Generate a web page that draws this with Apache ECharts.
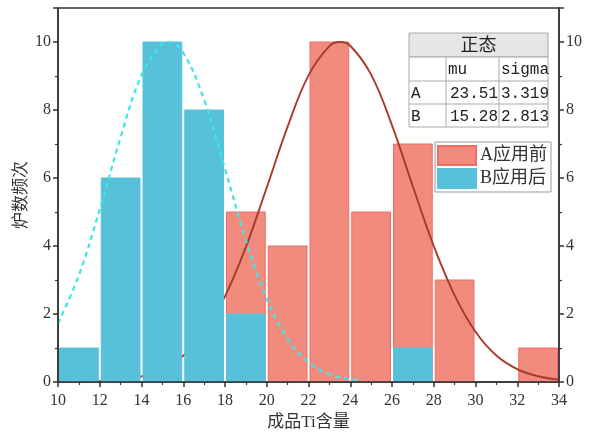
<!DOCTYPE html>
<html>
<head>
<meta charset="utf-8">
<script src="https://cdn.jsdelivr.net/npm/echarts@6/dist/echarts.min.js"></script>
<style>html,body{margin:0;padding:0;background:#fff;}#c{width:590px;height:437px;}</style>
</head>
<body>
<div id="c"></div>
<script>
// ---- data ----
const binStarts = [10, 12, 14, 16, 18, 20, 22, 24, 26, 28, 30, 32];
const binWidth = 2;
const countsA = [0, 0, 0, 0, 5, 4, 10, 5, 7, 3, 0, 1];
const countsB = [1, 6, 10, 8, 2, 0, 0, 0, 1, 0, 0, 0];
const seriesNames = ['A应用前', 'B应用后'];
const curveAX = [10, 11, 12, 13, 14, 15, 16, 17, 18, 19, 20, 21, 22, 23, 23.5, 24, 25, 26, 27, 28, 29, 30, 31, 32, 33, 34];
const curveAY = [0.003, 0.008, 0.024, 0.066, 0.165, 0.374, 0.773, 1.46, 2.52, 3.97, 5.72, 7.51, 9.02, 9.88, 10.0, 9.89, 9.04, 7.55, 5.75, 4.00, 2.55, 1.48, 0.78, 0.38, 0.17, 0.07];
const curveBX = [10, 11, 12, 13, 14, 15, 15.3, 16, 17, 18, 19, 20, 21, 22, 23, 24, 24.5];
const curveBY = [1.72, 3.14, 5.07, 7.20, 9.02, 9.95, 10.0, 9.68, 8.30, 6.27, 4.17, 2.45, 1.27, 0.58, 0.23, 0.08, 0.05];
const xTicks = {min: 10, max: 34, interval: 2};
const yTicks = {min: 0, max: 11, interval: 2};
const tableTitle = '正态';
const tableHeader = ['', 'mu', 'sigma'];
const tableRows = [['A', '23.51', '3.319'], ['B', '15.28', '2.813']];
const xName = '成品Ti含量';
const yName = '炉数频次';

// ---- styles ----
const serif = "'Liberation Serif', 'Noto Sans CJK SC', serif";
const mono = "'Liberation Mono', 'Noto Sans CJK SC', monospace";
const redFill = '#F08B7D', redBorder = '#F26B66';
const blueFill = '#57C1DA', blueBorder = '#57C1DA';

function binData(counts) {
  return binStarts.map((s, i) => [s, s + binWidth, counts[i]]);
}
function renderBin(params, api) {
  const v = api.value(2);
  if (!v) return null;
  const p0 = api.coord([api.value(0), v]);
  const p1 = api.coord([api.value(1), 0]);
  return {
    type: 'rect',
    shape: {x: p0[0] + 1.5, y: p0[1], width: p1[0] - p0[0] - 3, height: p1[1] - p0[1] - 0.5},
    style: api.style()
  };
}

const axisLineStyle = {color: '#333', width: 1.5};
const tickLabel = {color: '#333', fontSize: 16, fontFamily: serif};

// table graphic
const tX = [409, 446, 499, 548];
const tY = [33, 57, 81, 104, 127];
const tableChildren = [];
tableChildren.push({type: 'rect', shape: {x: tX[0], y: tY[0], width: tX[3] - tX[0], height: tY[1] - tY[0]}, style: {fill: '#e6e6e6', stroke: '#aaa', lineWidth: 1}});
tableChildren.push({type: 'rect', shape: {x: tX[0], y: tY[1], width: tX[3] - tX[0], height: tY[4] - tY[1]}, style: {fill: '#fff', stroke: '#aaa', lineWidth: 1}});
for (let r = 2; r < 4; r++) tableChildren.push({type: 'line', shape: {x1: tX[0], y1: tY[r], x2: tX[3], y2: tY[r]}, style: {stroke: '#aaa', lineWidth: 1}});
for (let c = 1; c < 3; c++) tableChildren.push({type: 'line', shape: {x1: tX[c], y1: tY[1], x2: tX[c], y2: tY[4]}, style: {stroke: '#aaa', lineWidth: 1}});
tableChildren.push({type: 'text', style: {text: tableTitle, x: (tX[0] + tX[3]) / 2, y: (tY[0] + tY[1]) / 2 + 1, align: 'center', verticalAlign: 'middle', fontSize: 18, fontFamily: serif, fill: '#222'}});
const allRows = [tableHeader].concat(tableRows);
allRows.forEach((row, ri) => {
  const cy = (tY[ri + 1] + tY[ri + 2]) / 2 + 1;
  row.forEach((txt, ci) => {
    if (!txt) return;
    const rightAlign = ri > 0 && ci === 1;
    tableChildren.push({type: 'text', style: {
      text: txt, x: rightAlign ? tX[ci + 1] - 1 : tX[ci] + 2, y: cy,
      align: rightAlign ? 'right' : 'left', verticalAlign: 'middle',
      fontSize: 16, fontFamily: mono, fill: '#222'}});
  });
});

const chart = echarts.init(document.getElementById('c'), null, {renderer: 'canvas'});
chart.setOption({
  backgroundColor: '#fff',
  animation: false,
  grid: {left: 58, right: 31, top: 8, bottom: 55, outerBoundsMode: 'none', containLabel: false,
         show: true, borderColor: '#333', borderWidth: 1.5, backgroundColor: 'transparent'},
  xAxis: {
    type: 'value', min: xTicks.min, max: xTicks.max, interval: xTicks.interval, z: 10,
    name: xName, nameLocation: 'middle', nameGap: 32, nameMoveOverlap: false,
    nameTextStyle: {fontSize: 17, fontFamily: serif, color: '#333'},
    axisLine: {show: true, lineStyle: axisLineStyle},
    axisTick: {show: true, inside: false, length: 5, lineStyle: axisLineStyle},
    minorTick: {show: true, splitNumber: 2, length: 3, lineStyle: {color: '#333', width: 1.2}},
    axisLabel: Object.assign({margin: 11}, tickLabel),
    splitLine: {show: false}
  },
  yAxis: [{
    type: 'value', min: yTicks.min, max: yTicks.max, interval: yTicks.interval, z: 10,
    name: yName, nameLocation: 'middle', nameGap: 28, nameRotate: 90, nameMoveOverlap: false,
    nameTextStyle: {fontSize: 17, fontFamily: serif, color: '#333'},
    axisLine: {show: true, lineStyle: axisLineStyle},
    axisTick: {show: true, inside: false, length: 5, lineStyle: axisLineStyle},
    minorTick: {show: true, splitNumber: 2, length: 3, lineStyle: {color: '#333', width: 1.2}},
    axisLabel: Object.assign({margin: 7, showMaxLabel: false}, tickLabel),
    splitLine: {show: false}
  }, {
    type: 'value', position: 'right', min: yTicks.min, max: yTicks.max, interval: yTicks.interval, z: 10,
    axisLine: {show: true, onZero: false, lineStyle: axisLineStyle},
    axisTick: {show: true, inside: false, length: 5, lineStyle: axisLineStyle},
    minorTick: {show: true, splitNumber: 2, length: 3, lineStyle: {color: '#333', width: 1.2}},
    axisLabel: Object.assign({margin: 7, showMaxLabel: false}, tickLabel),
    splitLine: {show: false}
  }],
  legend: {
    orient: 'vertical', left: 435, top: 142,
    data: seriesNames,
    itemWidth: 38, itemHeight: 19, itemGap: 2, icon: 'rect',
    padding: [3, 4, 3, 2],
    borderColor: '#999', borderWidth: 1, backgroundColor: '#fff',
    textStyle: {fontSize: 18, fontFamily: serif, color: '#333', padding: [0, 0, 0, -1]},
    selectedMode: false
  },
  graphic: [{type: 'group', z: 100, children: tableChildren}],
  series: [
    {name: seriesNames[0], type: 'custom', renderItem: renderBin, data: binData(countsA),
     encode: {x: [0, 1], y: 2}, z: 1,
     itemStyle: {color: redFill, borderColor: redBorder, borderWidth: 1}},
    {name: 'fitA', type: 'line', data: curveAX.map((x, i) => [x, curveAY[i]]), smooth: 0.4,
     symbol: 'none', z: 2, lineStyle: {color: '#A63A2B', width: 1.9}},
    {name: seriesNames[1], type: 'custom', renderItem: renderBin, data: binData(countsB),
     encode: {x: [0, 1], y: 2}, z: 3,
     itemStyle: {color: blueFill, borderColor: blueBorder, borderWidth: 1}},
    {name: 'fitB', type: 'line', data: curveBX.map((x, i) => [x, curveBY[i]]), smooth: 0.4,
     symbol: 'none', z: 4, lineStyle: {color: '#3EE6E6', width: 2.2, type: [5, 4]}}
  ]
});
</script>
</body>
</html>
